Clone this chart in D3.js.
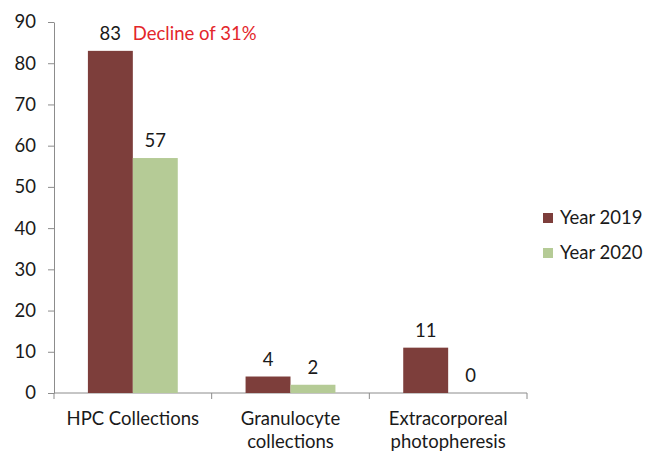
<!DOCTYPE html>
<html>
<head>
<meta charset="utf-8">
<script src="https://cdn.jsdelivr.net/npm/d3@7"></script>
<style>
  body { margin: 0; background: #fff; }
  text { font-family: Lato, "Open Sans", sans-serif; fill: #1a1a1a; }
</style>
</head>
<body>
<svg id="chart" width="646" height="455"></svg>
<script>
// data
var categories = [["HPC Collections"], ["Granulocyte", "collections"], ["Extracorporeal", "photopheresis"]];
var seriesNames = ["Year 2019", "Year 2020"];
var values2019 = [83, 4, 11];
var values2020 = [57, 2, 0];
var yTicks = [0, 10, 20, 30, 40, 50, 60, 70, 80, 90];
var note = "Decline of 31%";

var myColors = ["#7d3e3b", "#b5cb96"];
var fontSize = "18.5px";
var svg = d3.select("#chart");

var x0 = d3.scaleBand().domain(d3.range(categories.length)).range([54, 527]).paddingInner(0.43).paddingOuter(0.215);
var x1 = d3.scaleBand().domain([0, 1]).range([0, x0.bandwidth()]);
var y = d3.scaleLinear().domain([0, 90]).range([393, 22]);

// y axis
var yAxis = d3.axisLeft(y).tickValues(yTicks).tickSize(6).tickSizeOuter(0);
var gy = svg.append("g").attr("transform", "translate(54,0)").call(yAxis);
gy.select(".domain").attr("stroke", "#8c8c8c");
gy.selectAll(".tick line").attr("stroke", "#8c8c8c");
gy.selectAll(".tick text").attr("x", -18).style("font-size", fontSize).attr("fill", "#1a1a1a");

// x axis: line + ticks at category boundaries
var step = (527 - 54) / categories.length;
svg.append("line").attr("x1", 54).attr("x2", 527).attr("y1", 393).attr("y2", 393).attr("stroke", "#8c8c8c");
d3.range(categories.length + 1).forEach(function (i) {
    svg.append("line").attr("x1", 54 + i * step).attr("x2", 54 + i * step)
        .attr("y1", 393).attr("y2", 399).attr("stroke", "#8c8c8c");
});

// bars
var rows = categories.map(function (c, i) { return [values2019[i], values2020[i]]; });
var groups = svg.append("g").selectAll("g").data(rows).enter().append("g")
    .attr("transform", function (d, i) { return "translate(" + x0(i) + ",0)"; });

groups.selectAll("rect").data(function (d) { return d; }).enter().append("rect")
    .attr("x", function (d, j) { return x1(j); })
    .attr("y", function (d) { return y(d); })
    .attr("width", x1.bandwidth())
    .attr("height", function (d) { return 393 - y(d); })
    .attr("fill", function (d, j) { return myColors[j]; });

groups.selectAll("text").data(function (d) { return d; }).enter().append("text")
    .attr("x", function (d, j) { return x1(j) + x1.bandwidth() / 2; })
    .attr("y", function (d) { return y(d) - 11; })
    .attr("text-anchor", "middle")
    .style("font-size", fontSize)
    .text(function (d) { return d; });

// annotation
svg.append("text").attr("x", x0(0) + x1(1)).attr("y", y(values2019[0]) - 11)
    .style("font-size", fontSize).style("fill", "#e3262b").text(note);

// category labels
categories.forEach(function (lines, i) {
    var t = svg.append("text").attr("text-anchor", "middle")
        .attr("x", x0(i) + x0.bandwidth() / 2).attr("y", 425).style("font-size", fontSize);
    lines.forEach(function (l, k) {
        t.append("tspan").attr("x", x0(i) + x0.bandwidth() / 2).attr("dy", k === 0 ? 0 : 23).text(l);
    });
});

// legend
seriesNames.forEach(function (s, i) {
    var ly = 218 + i * 35;
    svg.append("rect").attr("x", 543).attr("y", ly - 5).attr("width", 10).attr("height", 10).attr("fill", myColors[i]);
    svg.append("text").attr("x", 560).attr("y", ly + 6).style("font-size", fontSize).text(s);
});
</script>
</body>
</html>
